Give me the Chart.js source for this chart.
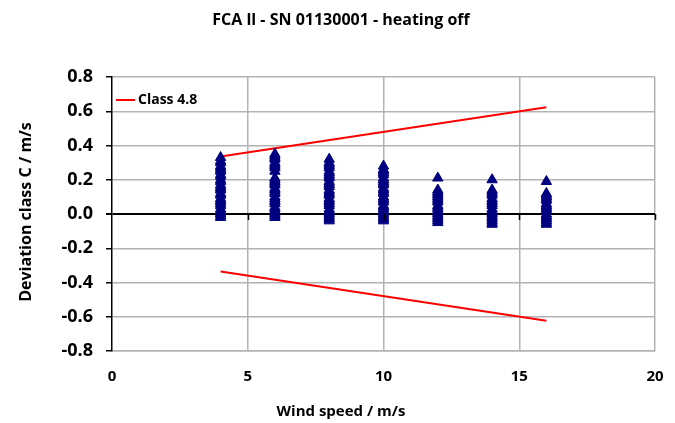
<!DOCTYPE html>
<html>
<head>
<meta charset="utf-8">
<script src="https://cdn.jsdelivr.net/npm/chart.js@4/dist/chart.umd.min.js"></script>
<style>
    html, body { margin: 0; padding: 0; background: #ffffff; }
    #wrap { position: relative; width: 675px; height: 423px; }
</style>
</head>
<body>
<div id="wrap"><canvas id="deviation-chart" width="675" height="423"></canvas></div>
<script>
// Wind speed bins and the measured deviations in each bin (m/s)
const windSpeeds = [4, 6, 8, 10, 12, 14, 16];
const devAt4 = [0.33, 0.31, 0.30, 0.28, 0.27, 0.26, 0.25, 0.23, 0.22, 0.20, 0.19, 0.17, 0.16, 0.15, 0.14, 0.12, 0.11, 0.09, 0.08, 0.07, 0.06, 0.05, 0.03, 0.02, 0.01, 0.00, -0.01, -0.02];
const devAt6 = [0.35, 0.34, 0.33, 0.32, 0.30, 0.29, 0.28, 0.27, 0.25, 0.21, 0.20, 0.19, 0.18, 0.17, 0.15, 0.14, 0.13, 0.12, 0.10, 0.09, 0.08, 0.07, 0.06, 0.04, 0.03, 0.02, 0.01, 0.00, -0.01, -0.02];
const devAt8 = [0.32, 0.30, 0.29, 0.28, 0.27, 0.25, 0.24, 0.23, 0.22, 0.21, 0.19, 0.18, 0.17, 0.16, 0.14, 0.13, 0.12, 0.11, 0.09, 0.08, 0.07, 0.06, 0.05, 0.03, 0.02, 0.01, 0.00, -0.01, -0.02, -0.03, -0.04];
const devAt10 = [0.28, 0.26, 0.25, 0.24, 0.23, 0.21, 0.20, 0.19, 0.18, 0.17, 0.15, 0.14, 0.13, 0.12, 0.10, 0.09, 0.08, 0.07, 0.05, 0.04, 0.03, 0.02, 0.01, 0.00, -0.01, -0.02, -0.03, -0.04];
const devAt12 = [0.21, 0.14, 0.13, 0.12, 0.11, 0.10, 0.09, 0.08, 0.07, 0.05, 0.04, 0.03, 0.02, 0.01, 0.00, -0.01, -0.02, -0.03, -0.04, -0.05];
const devAt14 = [0.20, 0.14, 0.13, 0.12, 0.11, 0.09, 0.08, 0.07, 0.06, 0.05, 0.03, 0.02, 0.01, 0.00, -0.01, -0.02, -0.03, -0.04, -0.05, -0.06];
const devAt16 = [0.19, 0.12, 0.11, 0.10, 0.09, 0.08, 0.06, 0.05, 0.04, 0.03, 0.02, 0.00, -0.01, -0.02, -0.03, -0.04, -0.05, -0.06];
const deviationsBySpeed = [devAt4, devAt6, devAt8, devAt10, devAt12, devAt14, devAt16];

// Class 4.8 limits at the ends of the measured range
const classSpeeds = [4, 16];
const classUpper = [0.336, 0.624];
const classLower = [-0.336, -0.624];

// Axis ticks
const xTicks = [0, 5, 10, 15, 20];
const yTicks = [-0.8, -0.6, -0.4, -0.2, 0.0, 0.2, 0.4, 0.6, 0.8];

const FONT = "'Open Sans', sans-serif";
const NAVY = '#000080';
const GRID = '#b3b3b3';

// Flatten the bins into scatter points
const measuredPoints = [];
windSpeeds.forEach((speed, i) => {
    deviationsBySpeed[i].forEach(dev => measuredPoints.push({ x: speed, y: dev }));
});

const upperPoints = classSpeeds.map((s, i) => ({ x: s, y: classUpper[i] }));
const lowerPoints = classSpeeds.map((s, i) => ({ x: s, y: classLower[i] }));

// Titles, in-plot legend and the little ticks on the zero line
const decorations = {
    id: 'decorations',
    afterDraw(chart) {
        const ctx = chart.ctx;
        const area = chart.chartArea;
        const xs = chart.scales.x;
        const ys = chart.scales.y;
        ctx.save();

        // tick marks hanging below the zero line
        const y0 = ys.getPixelForValue(0);
        ctx.strokeStyle = '#000';
        ctx.lineWidth = 1.5;
        xTicks.slice(1).forEach(t => {
            const px = Math.round(xs.getPixelForValue(t)) + 0.5;
            ctx.beginPath();
            ctx.moveTo(px, y0);
            ctx.lineTo(px, y0 + 6);
            ctx.stroke();
        });

        ctx.fillStyle = '#000';
        ctx.textBaseline = 'middle';

        // chart title
        ctx.textAlign = 'center';
        ctx.font = 'bold 16px ' + FONT;
        ctx.fillText('FCA ll - SN 01130001 - heating off', 341, 20);

        // x axis title
        ctx.font = 'bold 15px ' + FONT;
        ctx.fillText('Wind speed / m/s', 341, 412);

        // y axis title
        ctx.save();
        ctx.translate(26, 212);
        ctx.rotate(-Math.PI / 2);
        ctx.font = 'bold 16px ' + FONT;
        ctx.fillText('Deviation class C / m/s', 0, 0);
        ctx.restore();

        // legend
        const ly = area.top + 23;
        ctx.strokeStyle = '#ff0000';
        ctx.lineWidth = 2;
        ctx.beginPath();
        ctx.moveTo(area.left + 4, ly);
        ctx.lineTo(area.left + 23, ly);
        ctx.stroke();
        ctx.textAlign = 'left';
        ctx.font = 'bold 14px ' + FONT;
        ctx.fillText('Class 4.8', area.left + 26, ly);

        ctx.restore();
    }
};

const ctx = document.getElementById('deviation-chart');
new Chart(ctx, {
    type: 'scatter',
    data: {
        datasets: [
            {
                label: 'Measured',
                data: measuredPoints,
                pointStyle: 'triangle',
                pointRadius: 6,
                backgroundColor: NAVY,
                borderColor: NAVY,
                borderWidth: 1,
                order: 0
            },
            {
                type: 'line',
                label: 'Class 4.8',
                data: upperPoints,
                borderColor: '#ff0000',
                borderWidth: 2,
                pointRadius: 0,
                fill: false,
                order: 1
            },
            {
                type: 'line',
                label: 'Class 4.8 lower',
                data: lowerPoints,
                borderColor: '#ff0000',
                borderWidth: 2,
                pointRadius: 0,
                fill: false,
                order: 1
            }
        ]
    },
    options: {
        responsive: false,
        animation: false,
        layout: { padding: { top: 77, right: 20, left: 0, bottom: 0 } },
        plugins: {
            legend: { display: false },
            tooltip: { enabled: false },
            title: { display: false }
        },
        scales: {
            x: {
                type: 'linear',
                min: 0,
                max: 20,
                afterBuildTicks: scale => { scale.ticks = xTicks.map(v => ({ value: v })); },
                afterFit: scale => {
                    scale.height = 72;
                    scale.paddingLeft = 0;
                    scale.paddingRight = 0;
                },
                grid: {
                    color: c => (c.tick && c.tick.value === 0) ? 'rgba(0,0,0,0)' : GRID,
                    lineWidth: 1.5,
                    drawTicks: false
                },
                border: { color: GRID, width: 1.5 },
                ticks: {
                    padding: 17,
                    color: '#000',
                    font: { family: FONT, size: 15, weight: 'bold' }
                }
            },
            y: {
                type: 'linear',
                min: -0.8,
                max: 0.8,
                afterBuildTicks: scale => { scale.ticks = yTicks.map(v => ({ value: v })); },
                afterFit: scale => {
                    scale.width = 112;
                    scale.paddingTop = 0;
                    scale.paddingBottom = 0;
                },
                grid: {
                    color: c => (c.tick && Math.abs(c.tick.value) < 1e-9) ? '#000' : GRID,
                    lineWidth: c => (c.tick && Math.abs(c.tick.value) < 1e-9) ? 2 : 1.5,
                    tickColor: '#000',
                    tickLength: 6
                },
                border: { color: '#000', width: 1.5 },
                ticks: {
                    padding: 13,
                    color: '#000',
                    font: { family: FONT, size: 18, weight: 'bold' },
                    callback: v => v.toFixed(1)
                }
            }
        }
    },
    plugins: [decorations]
});
</script>
</body>
</html>
